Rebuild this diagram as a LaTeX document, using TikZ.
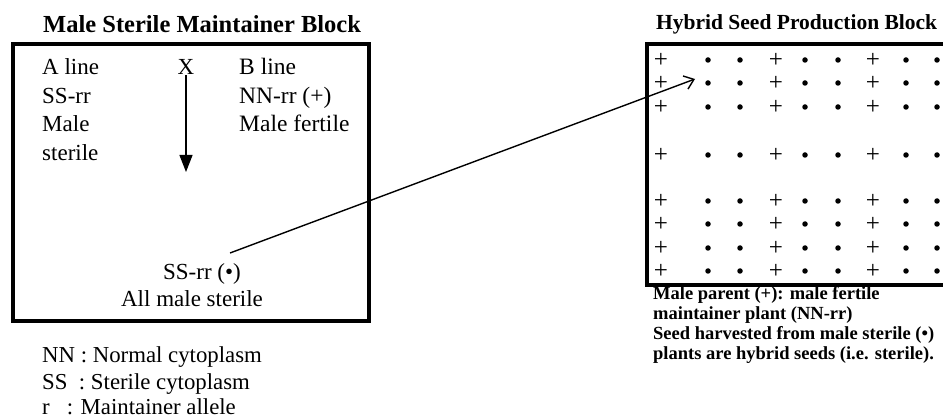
\documentclass[tikz,border=0pt]{standalone}
\usepackage{fontspec}
\setmainfont{Liberation Serif}
\usetikzlibrary{arrows.meta}

\begin{document}
\begin{tikzpicture}[x=1pt, y=-1pt, box/.style={line width=4pt}, txt/.style={anchor=base west, inner sep=0pt, align=left, font=\fontsize{23}{28.5}\selectfont}, ctxt/.style={anchor=base, inner sep=0pt, font=\fontsize{23}{28.5}\selectfont}, key/.style={anchor=base west, inner sep=0pt, font=\fontsize{22.8}{25.5}\selectfont}, title/.style={anchor=base west, inner sep=0pt, font=\bfseries\fontsize{24.5}{28}\selectfont}, cross/.style={-{Triangle[length=17pt,width=13pt]}, line width=1.2pt}, link/.style={-{Straight Barb[length=9pt,width=14pt]}, line width=1.4pt}, plant/.style={inner sep=0pt, font=\fontsize{25}{25}\selectfont}, seed/.style={circle, fill, inner sep=0pt, minimum size=5.5pt}]

\useasboundingbox (0,0) rectangle (943,419);

% maintainer block (multi-line nodes sit on their last baseline)
\node[title] (mtitle) at (43,33) {Male Sterile Maintainer Block}; \draw[box] (13,44.5) rectangle (369,321);
\node[txt] (aline) at (42,160.5) {A line\\SS-rr\\Male\\sterile}; \node[ctxt] (X) at (186,75) {X}; \node[txt, font=\fontsize{23.5}{28.5}\selectfont] (bline) at (239,132) {B line\\NN-rr (+)\\Male fertile};
\coordinate (xend) at (186,172); \draw[cross] (X.south) -- (xend);
\node[ctxt] (ssrr) at (202,280) {SS-rr (•)}; \node[ctxt] (allms) at (192,307) {All male sterile};
\node[key] (knn) at (42,363) {NN : Normal cytoplasm}; \node[key] (kss) at (42,390) {SS\ \ : Sterile cytoplasm}; \node[key] (kr) at (42,415) {r\hspace{17pt}: Maintainer allele};

% production block
\node[title, font=\bfseries\fontsize{21.5}{24}\selectfont] (ptitle) at (656,30) {Hybrid Seed Production Block}; \draw[box] (647,44) rectangle (952,285);
\foreach \r [count=\i] in {60,83,107,155,201,224,248,271}{\foreach \c [count=\j] in {661,708,740,776,805,838,873,906,937}{\pgfmathtruncatemacro\k{mod(\j,3)}\ifnum\k=1 \node[plant] (p\i-\j) at (\c,\r) {+};\else \node[seed] (p\i-\j) at (\c,\r) {};\fi}}
\node[txt, font=\bfseries\fontsize{18.5}{20}\selectfont] (pnote) at (653,360) {Male parent (+): male fertile\\maintainer plant (NN-rr)\\Seed harvested from male sterile (•)\\plants are hybrid seeds (i.e. sterile).};

\coordinate (from) at (230,253); \coordinate (tip) at (695,79); \draw[link] (from) -- (tip);
\end{tikzpicture}
\end{document}
